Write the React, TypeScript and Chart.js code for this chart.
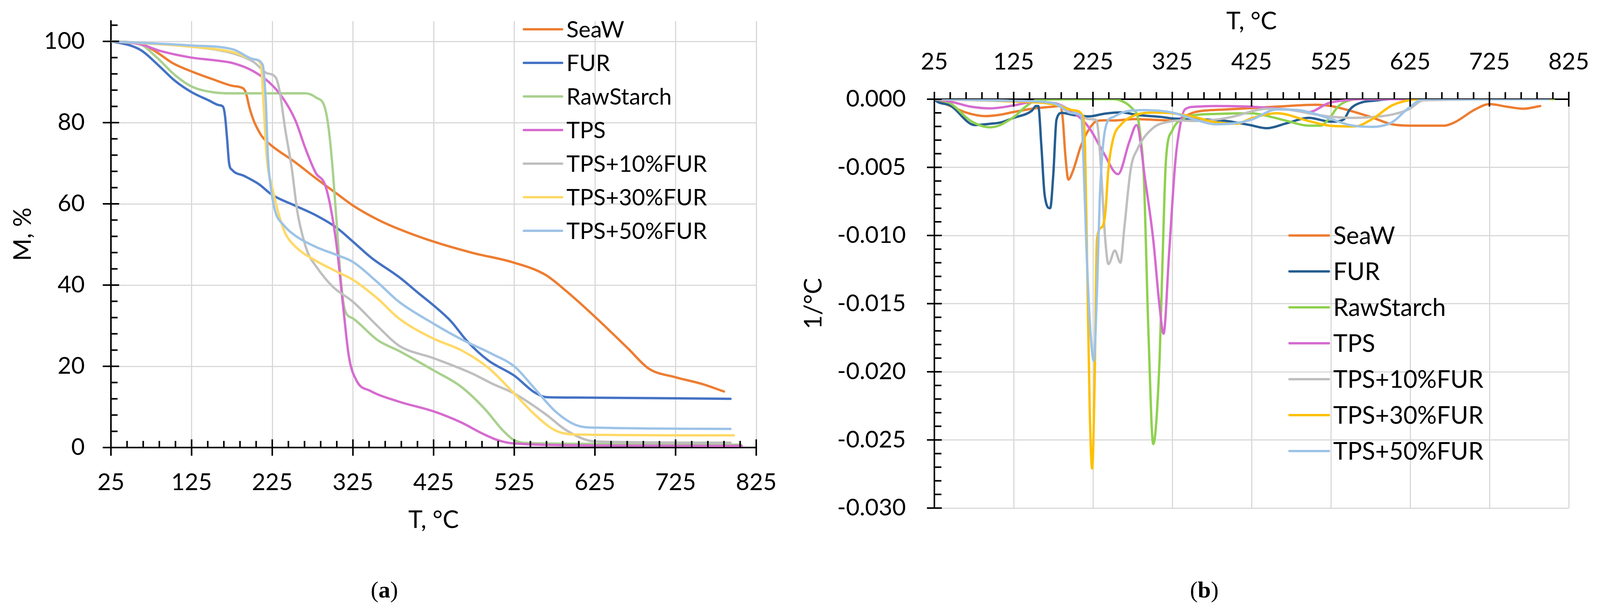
import React, { useEffect, useRef } from "react";
import { Chart, registerables } from "chart.js";
Chart.register(...registerables);

const FONT = "Lato, 'Open Sans', 'Noto Sans', sans-serif";

// ---------- shared ----------
const seriesLabels = ["SeaW", "FUR", "RawStarch", "TPS", "TPS+10%FUR", "TPS+30%FUR", "TPS+50%FUR"];
const colorsA = ["#ED7D31", "#4472C4", "#A9D18E", "#D66BD0", "#BFBFBF", "#FFD966", "#9DC3E6"];
const colorsB = ["#ED7D31", "#255E91", "#8FD14F", "#D66BD0", "#BFBFBF", "#FFC000", "#9DC3E6"];
const xTickValues = [25, 125, 225, 325, 425, 525, 625, 725, 825];
const yTickValuesA = [0, 20, 40, 60, 80, 100];
const yTickValuesB = [0, -0.005, -0.01, -0.015, -0.02, -0.025, -0.03];

// ---------- panel (a): mass, % ----------
const seaW_T_a = [25, 61, 82, 102, 125, 151, 177, 184, 192, 197, 202, 208, 213, 225, 253, 279, 305, 325, 356, 382, 425, 472, 525, 563, 589, 625, 666, 692, 725, 757, 785];
const seaW_M_a = [100, 99.5, 97.3, 94.6, 92.6, 90.7, 89, 88.8, 87.5, 83.5, 80.5, 78, 76.4, 74.2, 70.3, 66.3, 62.5, 59.6, 56.1, 53.8, 50.7, 48, 45.5, 42.6, 38.6, 32.2, 24.4, 19.4, 17.3, 15.7, 13.8];
const fur_T_a = [25, 49, 64, 85, 105, 125, 146, 159, 164, 166.5, 169, 171.5, 175.5, 190, 208, 225, 254, 279, 305, 325, 348, 382, 407, 425, 446, 467, 493, 525, 550, 565, 602, 793];
const fur_M_a = [100, 99, 97.6, 93.9, 90.2, 87.5, 85.5, 84.3, 83.9, 81.5, 76, 70, 68.3, 66.9, 64.9, 62.2, 59.5, 57.2, 54.1, 50.7, 46.7, 42, 37.9, 35, 31.2, 26.1, 21.4, 17.7, 13.6, 12.4, 12.3, 12];
const raw_T_a = [25, 61, 82, 105, 125, 151, 177, 266, 279, 290, 295, 300, 305, 310, 315, 325, 356, 382, 425, 459, 488, 511, 525, 545, 625, 806];
const raw_M_a = [100, 99.3, 96, 91.6, 88.9, 87.5, 87.2, 87.2, 86.2, 83.8, 78.4, 68.3, 54.8, 41.3, 33.9, 31.8, 26.4, 23.8, 19, 15, 9.6, 4.2, 1.8, 1.1, 0.9, 0.7];
const tps_T_a = [25, 61, 87, 125, 151, 177, 202, 225, 241, 254, 266, 279, 290, 297, 305, 313, 320, 330, 346, 382, 425, 459, 485, 505, 525, 625, 807];
const tps_M_a = [100, 99.3, 97.6, 96, 95.4, 94.6, 92.6, 89.2, 85.2, 80.4, 73.7, 67.6, 64.9, 59.5, 49.4, 34.5, 22.4, 16.3, 14, 11.3, 8.9, 6.2, 3.5, 1.8, 1, 0.5, 0.4];
const tps10_T_a = [25, 125, 177, 202, 218, 229, 234, 241, 249, 256, 261, 269, 279, 300, 325, 356, 382, 425, 472, 498, 525, 564, 590, 625, 793];
const tps10_M_a = [100, 98.7, 97, 94.9, 92.2, 91.2, 87.9, 78.4, 69, 58.2, 53.4, 48, 44.7, 39.6, 35.9, 29.8, 25.1, 22, 18.3, 15.7, 13.3, 8.2, 4.2, 1.5, 1.2];
const tps30_T_a = [25, 125, 177, 202, 211, 214, 218, 225.5, 234, 241, 254, 279, 305, 325, 356, 382, 425, 459, 493, 525, 550, 576, 602, 797];
const tps30_M_a = [100, 98.7, 97.3, 95.6, 94.3, 85.2, 71.7, 63.6, 56.8, 52.8, 49.4, 46, 43.3, 41.3, 36.6, 31.8, 26.8, 24, 19.6, 13.3, 8.2, 4.2, 3.2, 3];
const tps50_T_a = [25, 125, 177, 202, 213, 217, 219.6, 223.5, 228.6, 239, 254, 279, 305, 325, 356, 382, 425, 459, 498, 525, 550, 576, 602, 625, 793];
const tps50_M_a = [100, 99, 98, 95.6, 94.3, 85.2, 71.7, 63.6, 58.2, 54.8, 52.1, 49.4, 47.4, 45.7, 40.6, 35.9, 30.5, 26.7, 23, 20, 14.6, 8.9, 5.5, 4.9, 4.6];

// ---------- panel (b): derivative, 1/°C ----------
const seaW_T_b = [25, 45, 66, 89, 109, 125, 148, 174, 184, 187, 190, 194, 199.5, 210, 220, 230, 240, 251, 277, 325, 354, 393, 425, 470, 505, 525, 549, 576, 602, 628, 668, 681, 707, 725, 747, 768, 789];
const seaW_D_b = [0, -0.0005, -0.001, -0.00124, -0.00113, -0.00094, -0.0007, -0.00055, -0.0005, -0.0015, -0.004, -0.0059, -0.0053, -0.0034, -0.0022, -0.0016, -0.00155, -0.00156, -0.00146, -0.00156, -0.00094, -0.00075, -0.00065, -0.0005, -0.00041, -0.0005, -0.00084, -0.00132, -0.00184, -0.00194, -0.00194, -0.0017, -0.00075, -0.00036, -0.00055, -0.0007, -0.0005];
const fur_T_b = [25, 29, 45, 76, 96, 109, 125, 148, 153, 156, 160, 164, 171, 175, 179, 186, 200, 220, 240, 261, 281, 311, 325, 354, 393, 423, 444, 470, 497, 525, 541, 549, 562, 581, 600, 800];
const fur_D_b = [0, -0.0002, -0.00046, -0.0019, -0.0018, -0.0017, -0.00137, -0.00084, -0.0005, -0.0005, -0.0035, -0.007, -0.008, -0.0055, -0.0015, -0.001, -0.00116, -0.00126, -0.00106, -0.00097, -0.00116, -0.0013, -0.00141, -0.00146, -0.0016, -0.0019, -0.00213, -0.00175, -0.00137, -0.00165, -0.0015, -0.00075, -0.00027, -0.0001, 0, 0];
const raw_T_b = [25, 45, 71, 96, 125, 140, 156, 250, 266, 277, 281, 285, 289, 295, 301, 309, 313, 317, 325, 341, 354, 380, 425, 444, 470, 497, 512, 523, 534, 544, 560, 806];
const raw_D_b = [0, -0.0003, -0.0016, -0.00206, -0.00132, -0.00055, -0.00003, 0, -0.00027, -0.00084, -0.0012, -0.0028, -0.0055, -0.0172, -0.0253, -0.0191, -0.0113, -0.0045, -0.0023, -0.00137, -0.00117, -0.00108, -0.00103, -0.00122, -0.0016, -0.00194, -0.00194, -0.00141, -0.00055, -0.00017, 0, 0];
const tps_T_b = [25, 45, 71, 96, 125, 148, 174, 199.5, 220, 238, 256.6, 271, 280, 291, 301, 309, 314, 321, 329, 335, 341, 354, 380, 425, 470, 497, 523, 544, 560, 800];
const tps_D_b = [0, -0.00017, -0.00055, -0.00067, -0.00046, -0.00022, -0.00027, -0.00094, -0.00208, -0.0039, -0.0055, -0.0031, -0.0019, -0.006, -0.0103, -0.0152, -0.0172, -0.0113, -0.0045, -0.0019, -0.00075, -0.00055, -0.0005, -0.00055, -0.00075, -0.00094, -0.00027, -0.00008, 0, 0];
const tps10_T_b = [25, 125, 174, 199.5, 220, 228, 231, 234.5, 240.5, 244.5, 252.6, 259.6, 264.6, 272.7, 280.7, 301, 321, 335, 354, 380, 406, 425, 444, 470, 497, 523, 549, 576, 602, 623, 642, 800];
const tps10_D_b = [0, -0.00012, -0.0003, -0.00084, -0.00146, -0.0015, -0.002, -0.0045, -0.0103, -0.0121, -0.0111, -0.012, -0.0094, -0.0051, -0.0037, -0.0021, -0.00165, -0.00156, -0.0016, -0.0015, -0.00122, -0.00089, -0.0007, -0.00075, -0.00103, -0.00127, -0.00137, -0.00132, -0.00113, -0.00075, -0.00008, 0];
const tps30_T_b = [25, 125, 174, 199.5, 212, 215, 218, 221, 224, 227, 230, 236, 240.5, 244.5, 250.5, 260.6, 277, 301, 325, 354, 380, 406, 425, 457, 497, 523, 555, 576, 602, 623, 640, 803];
const tps30_D_b = [0, -0.00017, -0.00036, -0.0008, -0.0012, -0.0035, -0.0133, -0.023, -0.0271, -0.021, -0.0103, -0.0094, -0.0084, -0.0051, -0.0029, -0.00185, -0.0012, -0.00098, -0.00103, -0.00132, -0.0017, -0.0018, -0.0014, -0.00103, -0.0016, -0.00194, -0.002, -0.0015, -0.00046, -0.00008, 0, 0];
const tps50_T_b = [25, 125, 174, 199.5, 210, 213, 217, 222, 226, 230, 233.5, 237.5, 242.5, 251, 264, 290, 325, 354, 380, 406, 425, 457, 484, 523, 549, 576, 602, 623, 642, 801];
const tps50_D_b = [0, -0.00012, -0.00027, -0.00103, -0.0012, -0.0045, -0.0113, -0.0172, -0.0192, -0.0142, -0.0074, -0.0035, -0.00175, -0.0013, -0.00094, -0.0008, -0.00098, -0.0015, -0.00184, -0.00175, -0.0015, -0.00075, -0.0008, -0.00141, -0.0019, -0.00203, -0.0017, -0.00065, 0, 0];

const seriesA = [
  [seaW_T_a, seaW_M_a], [fur_T_a, fur_M_a], [raw_T_a, raw_M_a], [tps_T_a, tps_M_a],
  [tps10_T_a, tps10_M_a], [tps30_T_a, tps30_M_a], [tps50_T_a, tps50_M_a],
];
const seriesB = [
  [seaW_T_b, seaW_D_b], [fur_T_b, fur_D_b], [raw_T_b, raw_D_b], [tps_T_b, tps_D_b],
  [tps10_T_b, tps10_D_b], [tps30_T_b, tps30_D_b], [tps50_T_b, tps50_D_b],
];

function minorValues(from: number, to: number, step: number, majorEvery: number, scale = 1) {
  const out: number[] = [];
  const n = Math.round((to - from) / step);
  for (let k = 0; k <= n; k++) {
    if (k % majorEvery !== 0) out.push((from + k * step) / scale);
  }
  return out;
}

const tickMarksPlugin = {
  id: "tickMarks",
  afterDraw(chart: any, _args: any, opts: any) {
    const { ctx } = chart;
    const xs = chart.scales.x;
    const ys = chart.scales.y;
    const area = chart.chartArea;
    const axisY = xs.position === "top" ? area.top : area.bottom;
    const axisX = area.left;
    ctx.save();
    ctx.strokeStyle = "#000";
    ctx.lineWidth = opts.width;
    ctx.lineCap = "butt";
    ctx.beginPath();
    for (const v of opts.xMajor) {
      const p = xs.getPixelForValue(v);
      ctx.moveTo(p, axisY - opts.majorLen);
      ctx.lineTo(p, axisY + opts.majorLen);
    }
    for (const v of opts.xMinor) {
      const p = xs.getPixelForValue(v);
      ctx.moveTo(p, axisY);
      ctx.lineTo(p, axisY + opts.xMinorDir * opts.minorLen);
    }
    for (const v of opts.yMajor) {
      const p = ys.getPixelForValue(v);
      ctx.moveTo(axisX - opts.majorLen, p);
      ctx.lineTo(axisX + opts.majorLen, p);
    }
    for (const v of opts.yMinor) {
      const p = ys.getPixelForValue(v);
      ctx.moveTo(axisX, p);
      ctx.lineTo(axisX + opts.minorLen, p);
    }
    ctx.stroke();
    ctx.restore();
  },
};

const legendPlugin = {
  id: "sideLegend",
  afterDraw(chart: any, _args: any, opts: any) {
    const { ctx } = chart;
    ctx.save();
    chart.data.datasets.forEach((ds: any, i: number) => {
      const y = opts.y0 + i * opts.dy;
      ctx.strokeStyle = ds.borderColor;
      ctx.lineWidth = 6;
      ctx.lineCap = "round";
      ctx.beginPath();
      ctx.moveTo(opts.x0, y);
      ctx.lineTo(opts.x0 + opts.len, y);
      ctx.stroke();
      ctx.fillStyle = "#000";
      ctx.font = `${opts.size}px ${FONT}`;
      ctx.textAlign = "left";
      ctx.textBaseline = "middle";
      ctx.fillText(ds.label, opts.x0 + opts.len + opts.gap, y + 2);
    });
    ctx.restore();
  },
};

function makeDatasets(series: number[][][], colors: string[]) {
  return series.map(([xs, ys], i) => ({
    label: seriesLabels[i],
    data: xs.map((x, j) => ({ x, y: ys[j] })),
    borderColor: colors[i],
    backgroundColor: colors[i],
    borderWidth: 6,
    pointRadius: 0,
    fill: false,
    cubicInterpolationMode: "monotone" as const,
    borderJoinStyle: "round" as const,
    borderCapStyle: "round" as const,
    order: series.length - i,
  }));
}

const GRID = "#D9D9D9";
const NONE = "rgba(0,0,0,0)";
const tickFont = { family: FONT, size: 60, lineHeight: 1 };
const titleFont = { family: FONT, size: 62, lineHeight: 1 };

// label offset from the axis is made with an invisible tick mark (tickLength), ticks.padding = 0
function gridOpts(skipValue: number, offset: number) {
  return {
    color: (c: any) => (c.tick && c.tick.value === skipValue ? NONE : GRID),
    lineWidth: 3,
    drawTicks: true,
    tickLength: offset,
    tickColor: NONE,
  };
}

function configA(): any {
  return {
    type: "line",
    data: { datasets: makeDatasets(seriesA, colorsA) },
    plugins: [tickMarksPlugin, legendPlugin],
    options: {
      animation: false,
      responsive: false,
      devicePixelRatio: 1,
      events: [],
      layout: { padding: { left: 0, right: 121, top: 54, bottom: 0 } },
      plugins: {
        legend: { display: false },
        tooltip: { enabled: false },
        tickMarks: {
          width: 4, majorLen: 21, minorLen: 17, xMinorDir: -1,
          xMajor: xTickValues, xMinor: minorValues(25, 825, 20, 5),
          yMajor: yTickValuesA, yMinor: minorValues(0, 104, 4, 5),
        },
        sideLegend: { x0: 1341, y0: 75, dy: 86, len: 98, gap: 11, size: 58 },
      },
      scales: {
        x: {
          type: "linear", position: "bottom", min: 25, max: 825,
          afterBuildTicks: (s: any) => { s.ticks = xTickValues.map((v) => ({ value: v })); },
          afterFit: (s: any) => { s.height = 1562 - 1146; },
          grid: gridOpts(25, 60),
          border: { color: "#000", width: 4 },
          ticks: { padding: 0, font: tickFont, color: "#000", maxRotation: 0, autoSkip: false, callback: (v: any) => String(v) },
          title: { display: true, text: "T, °C", color: "#000", font: titleFont, padding: { top: 0, bottom: 199 } },
        },
        y: {
          type: "linear", position: "left", min: 0, max: 105,
          afterBuildTicks: (s: any) => { s.ticks = yTickValuesA.map((v) => ({ value: v })); },
          afterFit: (s: any) => { s.width = 284; },
          grid: gridOpts(0, 67),
          border: { color: "#000", width: 4 },
          ticks: { padding: 0, font: tickFont, color: "#000", autoSkip: false, callback: (v: any) => String(v) },
          title: { display: true, text: "M, %", color: "#000", font: titleFont, padding: { top: 28, bottom: 0 } },
        },
      },
    },
  };
}

function configB(): any {
  return {
    type: "line",
    data: { datasets: makeDatasets(seriesB, colorsB) },
    plugins: [tickMarksPlugin, legendPlugin],
    options: {
      animation: false,
      responsive: false,
      devicePixelRatio: 1,
      events: [],
      layout: { padding: { left: 0, right: 99, top: 0, bottom: 261 } },
      plugins: {
        legend: { display: false },
        tooltip: { enabled: false },
        tickMarks: {
          width: 4, majorLen: 19, minorLen: 18, xMinorDir: -1,
          xMajor: xTickValues, xMinor: minorValues(25, 825, 20, 5),
          yMajor: yTickValuesB, yMinor: minorValues(0, -30, -1, 5, 1000),
        },
        sideLegend: { x0: 1244, y0: 603, dy: 92, len: 101, gap: 11, size: 62 },
      },
      scales: {
        x: {
          type: "linear", position: "top", min: 25, max: 825,
          afterBuildTicks: (s: any) => { s.ticks = xTickValues.map((v) => ({ value: v })); },
          afterFit: (s: any) => { s.height = 254; },
          grid: gridOpts(25, 65),
          border: { color: "#000", width: 4 },
          ticks: { padding: 0, font: tickFont, color: "#000", maxRotation: 0, autoSkip: false, callback: (v: any) => String(v) },
          title: { display: true, text: "T, °C", color: "#000", font: titleFont, padding: { top: 24, bottom: 0 } },
        },
        y: {
          type: "linear", position: "left", min: -0.03, max: 0,
          afterBuildTicks: (s: any) => { s.ticks = yTickValuesB.map((v) => ({ value: v })); },
          afterFit: (s: any) => { s.width = 335; },
          grid: gridOpts(0, 73),
          border: { color: "#000", width: 4 },
          ticks: { padding: 0, font: tickFont, color: "#000", autoSkip: false, callback: (v: any) => Number(v).toFixed(3) },
          title: { display: true, text: "1/°C", color: "#000", font: { family: FONT, size: 62, lineHeight: 0.8 }, padding: { top: 1, bottom: 0 } },
        },
      },
    },
  };
}

export default function App() {
  const refA = useRef<HTMLCanvasElement>(null);
  const refB = useRef<HTMLCanvasElement>(null);

  useEffect(() => {
    let cancelled = false;
    let charts: any[] = [];
    const make = () => {
      if (cancelled || !refA.current || !refB.current) return;
      charts.push(new Chart(refA.current, configA()));
      charts.push(new Chart(refB.current, configB()));
    };
    const fonts: any = (document as any).fonts;
    if (fonts && fonts.load) {
      Promise.all([fonts.load(`60px Lato`), fonts.load(`60px "Liberation Serif"`)]).then(make, make);
    } else {
      make();
    }
    return () => {
      cancelled = true;
      charts.forEach((c) => c.destroy());
      charts = [];
    };
  }, []);

  const panelLabel = (letter: string, cx: number): React.ReactNode => (
    <div
      style={{
        position: "absolute", left: cx - 200, width: 400, top: 1478, height: 64,
        textAlign: "center", fontFamily: "'Liberation Serif', 'Times New Roman', serif",
        fontSize: 60, lineHeight: "64px", color: "#000",
      }}
    >
      (<b>{letter}</b>)
    </div>
  );

  return (
    <div style={{ position: "fixed", left: 0, top: 0, width: 4115, height: 1562, background: "#fff", overflow: "hidden" }}>
      <canvas ref={refA} width={2057} height={1562} style={{ position: "absolute", left: 0, top: 0, width: 2057, height: 1562 }} />
      <canvas ref={refB} width={2058} height={1562} style={{ position: "absolute", left: 2057, top: 0, width: 2058, height: 1562 }} />
      {panelLabel("a", 984)}
      {panelLabel("b", 3083)}
    </div>
  );
}
